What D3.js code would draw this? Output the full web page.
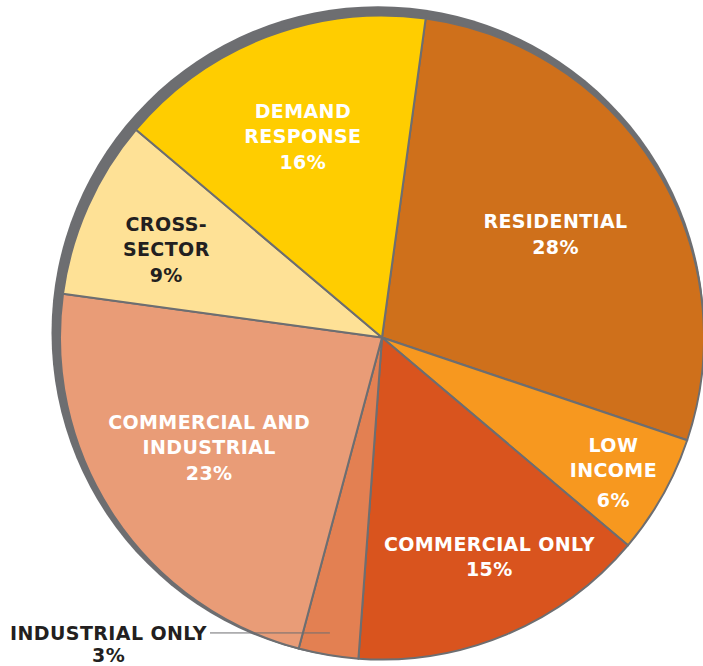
<!DOCTYPE html>
<html>
<head>
<meta charset="utf-8">
<script src="https://cdn.jsdelivr.net/npm/d3@7"></script>
<style>
  html, body { margin: 0; padding: 0; background: #fff; }
  svg { display: block; }
  text { font-family: "DejaVu Sans", "Open Sans", sans-serif; font-weight: bold; }
</style>
</head>
<body>
<svg id="chart" width="703" height="666"></svg>
<script>
// Program share by sector, percent of total
const categories = ["RESIDENTIAL", "LOW INCOME", "COMMERCIAL ONLY", "INDUSTRIAL ONLY",
                    "COMMERCIAL AND INDUSTRIAL", "CROSS-SECTOR", "DEMAND RESPONSE"];
const shares = [28, 6, 15, 3, 23, 9, 16];
// Label text, one entry per line
const labelLines = [
  ["RESIDENTIAL"],
  ["LOW", "INCOME"],
  ["COMMERCIAL ONLY"],
  ["INDUSTRIAL ONLY"],
  ["COMMERCIAL AND", "INDUSTRIAL"],
  ["CROSS-", "SECTOR"],
  ["DEMAND", "RESPONSE"]
];
const sliceColors = ["#CF701B", "#F7981F", "#D9541E", "#E38052", "#E99C77", "#FEE196", "#FFCD00"];
const labelColors = ["#fff", "#fff", "#fff", "#231F20", "#fff", "#231F20", "#fff"];

// Label placement: angle (deg, clockwise from top) and distance from the centre
const labelAngle = [59.2, 120.3, 153.9, 190, 237.5, 292.2, 338.5];
const labelRadius = [202, 268, 244, 300, 205, 233, 216];

const W = 703, H = 666;
const cx = 382, cy = 337.5, R = 322;
const rimGray = "#6D6E71";
const lineH = 25.3, capH = 13.6;

const svg = d3.select("#chart");

// offset grey disc behind the pie forms the rim on the upper-left
svg.append("circle")
  .attr("cx", cx - 4).attr("cy", cy - 4.75).attr("r", R + 4.5)
  .attr("fill", rimGray);

const pie = d3.pie().sort(null).value(d => d)
  .startAngle(7.8 * Math.PI / 180)
  .endAngle(7.8 * Math.PI / 180 + 2 * Math.PI);
const arcs = pie(shares);
const arc = d3.arc().innerRadius(0).outerRadius(R);

const g = svg.append("g").attr("transform", `translate(${cx},${cy})`);
g.selectAll("path.slice")
  .data(arcs)
  .join("path")
  .attr("class", "slice")
  .attr("d", arc)
  .attr("fill", (d, i) => sliceColors[i])
  .attr("stroke", rimGray)
  .attr("stroke-width", 2)
  .attr("stroke-linejoin", "round");

function polar(deg, r) {
  const a = deg * Math.PI / 180;
  return [r * Math.sin(a), -r * Math.cos(a)];
}

const fontSize = 19, spacing = 0.4;

arcs.forEach((d, i) => {
  const lines = labelLines[i].concat([d.data + "%"]);
  const [px, py] = polar(labelAngle[i], labelRadius[i]);
  if (categories[i] === "INDUSTRIAL ONLY") {
    // outside label with a horizontal leader line
    const lineStartX = 210 - cx;
    g.append("line")
      .attr("x1", lineStartX).attr("y1", py)
      .attr("x2", px).attr("y2", py)
      .attr("stroke", rimGray).attr("stroke-width", 1);
    const t = g.append("text")
      .attr("fill", labelColors[i])
      .attr("font-size", fontSize)
      .attr("letter-spacing", spacing)
      .attr("text-anchor", "end")
      .attr("x", lineStartX - 3)
      .attr("y", py + capH / 2)
      .text(lines[0]);
    const w = t.node().getComputedTextLength();
    g.append("text")
      .attr("fill", labelColors[i])
      .attr("font-size", fontSize)
      .attr("letter-spacing", spacing)
      .attr("text-anchor", "middle")
      .attr("x", lineStartX - 3 - w / 2)
      .attr("y", py + capH / 2 + 22.7)
      .text(lines[1]);
    return;
  }
  const n = lines.length;
  const gapLast = categories[i] === "LOW INCOME" ? 30 : lineH;
  const total = (n - 2) * lineH + gapLast;
  const first = py - total / 2 + capH / 2;
  lines.forEach((s, k) => {
    let y = first + k * lineH;
    if (k === n - 1) y = first + (n - 2) * lineH + gapLast;
    g.append("text")
      .attr("fill", labelColors[i])
      .attr("font-size", fontSize)
      .attr("letter-spacing", spacing)
      .attr("text-anchor", "middle")
      .attr("x", px)
      .attr("y", y)
      .text(s);
  });
});
</script>
</body>
</html>
